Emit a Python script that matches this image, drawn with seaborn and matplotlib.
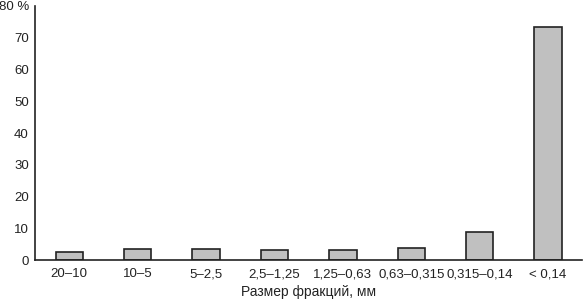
import matplotlib
matplotlib.use("Agg")
import matplotlib.pyplot as plt
import seaborn as sns
import pandas as pd
import numpy as np

# данные
fractions = ["20–10", "10–5", "5–2,5", "2,5–1,25", "1,25–0,63",
             "0,63–0,315", "0,315–0,14", "< 0,14"]
percent = [2.5, 3.4, 3.4, 3.1, 3.1, 3.7, 8.7, 73.4]
y_ticks = [0, 10, 20, 30, 40, 50, 60, 70, 80]
y_labels = ["0", "10", "20", "30", "40", "50", "60", "70", "80 %"]

df = pd.DataFrame({"fraction": fractions, "percent": percent})

sns.set_style("white")
plt.rcParams['font.family'] = ['Liberation Sans', 'DejaVu Sans']

fig = plt.figure(figsize=(5.84, 3.0), dpi=100)
ax = fig.add_axes([0.06, 0.133, 0.937, 0.847])

sns.barplot(data=df, x="fraction", y="percent", color="#c0c0c0",
            edgecolor="#222222", linewidth=1.2, width=0.4, ax=ax)

ax.set_xlim(-0.5, len(fractions) - 0.5)
ax.set_ylim(0, 80)
ax.set_yticks(y_ticks)
ax.set_yticklabels(y_labels, fontsize=9.5, color="#222222")
ax.tick_params(axis="y", direction="inout", length=5, width=1, pad=2)

# деления по оси x между категориями
ax.set_xticks(np.arange(len(fractions)))
ax.set_xticklabels(fractions, fontsize=9.5, color="#222222")
ax.tick_params(axis="x", which="major", length=0, pad=6)
ax.set_xticks(np.arange(len(fractions) + 1) - 0.5, minor=True)
ax.tick_params(axis="x", which="minor", direction="inout", length=4, width=1)

ax.set_xlabel("Размер фракций, мм", fontsize=10, color="#222222", labelpad=3)
ax.set_ylabel("")

for side in ["top", "right"]:
    ax.spines[side].set_visible(False)
for side in ["left", "bottom"]:
    ax.spines[side].set_color("#222222")
    ax.spines[side].set_linewidth(1.2)

fig.savefig("out.png", dpi=100)
